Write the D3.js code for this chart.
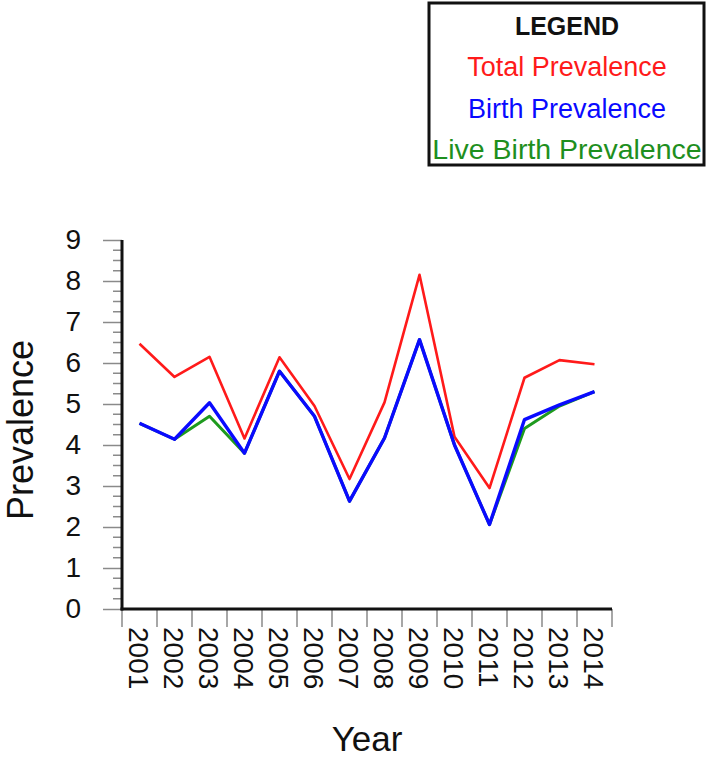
<!DOCTYPE html>
<html>
<head>
<meta charset="utf-8">
<script src="https://cdn.jsdelivr.net/npm/d3@7"></script>
<style>
  html, body { margin: 0; padding: 0; background: #fff; }
  svg { display: block; font-family: "Liberation Sans", Arial, sans-serif; }
</style>
</head>
<body>
<svg id="chart" width="709" height="760"></svg>
<script>
const years = ["2001","2002","2003","2004","2005","2006","2007","2008","2009","2010","2011","2012","2013","2014"];
const totalPrevalence = [6.47, 5.66, 6.15, 4.16, 6.14, 4.95, 3.17, 5.04, 8.15, 4.2, 2.95, 5.64, 6.07, 5.97];
const birthPrevalence = [4.53, 4.14, 5.03, 3.8, 5.8, 4.7, 2.63, 4.17, 6.57, 4.0, 2.06, 4.62, 4.98, 5.3];
const liveBirthPrevalence = [4.53, 4.14, 4.7, 3.8, 5.8, 4.7, 2.63, 4.17, 6.57, 4.0, 2.06, 4.4, 4.95, 5.3];
const yMajorTicks = [0,1,2,3,4,5,6,7,8,9];
const legendItems = ["Total Prevalence", "Birth Prevalence", "Live Birth Prevalence"];

const svg = d3.select("#chart");

const x = d3.scaleBand().domain(years).range([122, 612]).padding(0);
const y = d3.scaleLinear().domain([0, 9]).range([609, 240]);
const cx = d => x(d) + x.bandwidth() / 2;

// Y axis minor ticks
const minor = d3.range(0, 9.001, 0.25).filter(v => Math.abs(v - Math.round(v)) > 1e-6);
svg.append("g").selectAll("line").data(minor).join("line")
  .attr("x1", 113).attr("x2", 122)
  .attr("y1", d => y(d)).attr("y2", d => y(d))
  .attr("stroke", "#8a8a8a").attr("stroke-width", 1.5);

// Y axis major ticks + labels via d3.axisLeft
const yAxis = d3.axisLeft(y).tickValues(yMajorTicks).tickFormat(d3.format("d"))
  .tickSize(19).tickPadding(22);
const gy = svg.append("g").attr("transform", "translate(122,0)").call(yAxis);
gy.select(".domain").remove();
gy.selectAll(".tick line").attr("stroke", "#8a8a8a").attr("stroke-width", 1.5);
gy.selectAll(".tick text").attr("font-size", 28).attr("fill", "#111")
  .attr("font-family", "Liberation Sans, Arial, sans-serif");

// X axis: boundary ticks
const bounds = years.map(d => x(d)).concat([x.range()[1]]);
svg.append("g").selectAll("line").data(bounds).join("line")
  .attr("x1", d => d).attr("x2", d => d)
  .attr("y1", 609).attr("y2", 627)
  .attr("stroke", "#8a8a8a").attr("stroke-width", 1.5);

// X labels rotated
svg.append("g").selectAll("text").data(years).join("text")
  .attr("transform", d => `translate(${cx(d)},627) rotate(90)`)
  .attr("dy", "0.36em")
  .attr("text-anchor", "start")
  .attr("font-size", 28)
  .attr("fill", "#111")
  .text(d => d);

// axis lines
svg.append("line").attr("x1", 122).attr("x2", 122).attr("y1", y(9)).attr("y2", y(0) + 1.5)
  .attr("stroke", "#111").attr("stroke-width", 3);
svg.append("line").attr("x1", 120.5).attr("x2", 612).attr("y1", y(0)).attr("y2", y(0))
  .attr("stroke", "#111").attr("stroke-width", 3);

// lines
const line = vals => d3.line().x((d, i) => cx(years[i])).y(d => y(d))(vals);
svg.append("path").attr("d", line(totalPrevalence)).attr("fill", "none")
  .attr("stroke", "#ff1a1a").attr("stroke-width", 2.6).attr("stroke-linejoin", "round");
svg.append("path").attr("d", line(liveBirthPrevalence)).attr("fill", "none")
  .attr("stroke", "#1e9a1e").attr("stroke-width", 3).attr("stroke-linejoin", "round");
svg.append("path").attr("d", line(birthPrevalence)).attr("fill", "none")
  .attr("stroke", "#0a0aff").attr("stroke-width", 3.4).attr("stroke-linejoin", "round");

// axis titles
svg.append("text").attr("transform", "translate(33,430) rotate(-90)")
  .attr("text-anchor", "middle").attr("font-size", 36).attr("fill", "#111").text("Prevalence");
svg.append("text").attr("x", 367).attr("y", 751)
  .attr("text-anchor", "middle").attr("font-size", 35).attr("fill", "#111").text("Year");

// legend
const lg = svg.append("g");
lg.append("rect").attr("x", 429).attr("y", 3).attr("width", 275).attr("height", 162)
  .attr("fill", "#fff").attr("stroke", "#111").attr("stroke-width", 3);
lg.append("text").attr("x", 567).attr("y", 35).attr("text-anchor", "middle")
  .attr("font-size", 25).attr("font-weight", "bold").attr("fill", "#111").text("LEGEND");
const legendColors = ["#ff1a1a", "#0a0aff", "#1e8f1e"];
const legendY = [76, 118, 159];
const legendSize = [27, 27, 28.5];
lg.selectAll("text.item").data(legendItems).join("text").attr("class", "item")
  .attr("x", 567).attr("y", (d, i) => legendY[i]).attr("text-anchor", "middle")
  .attr("font-size", (d, i) => legendSize[i]).attr("fill", (d, i) => legendColors[i])
  .text(d => d);
</script>
</body>
</html>
